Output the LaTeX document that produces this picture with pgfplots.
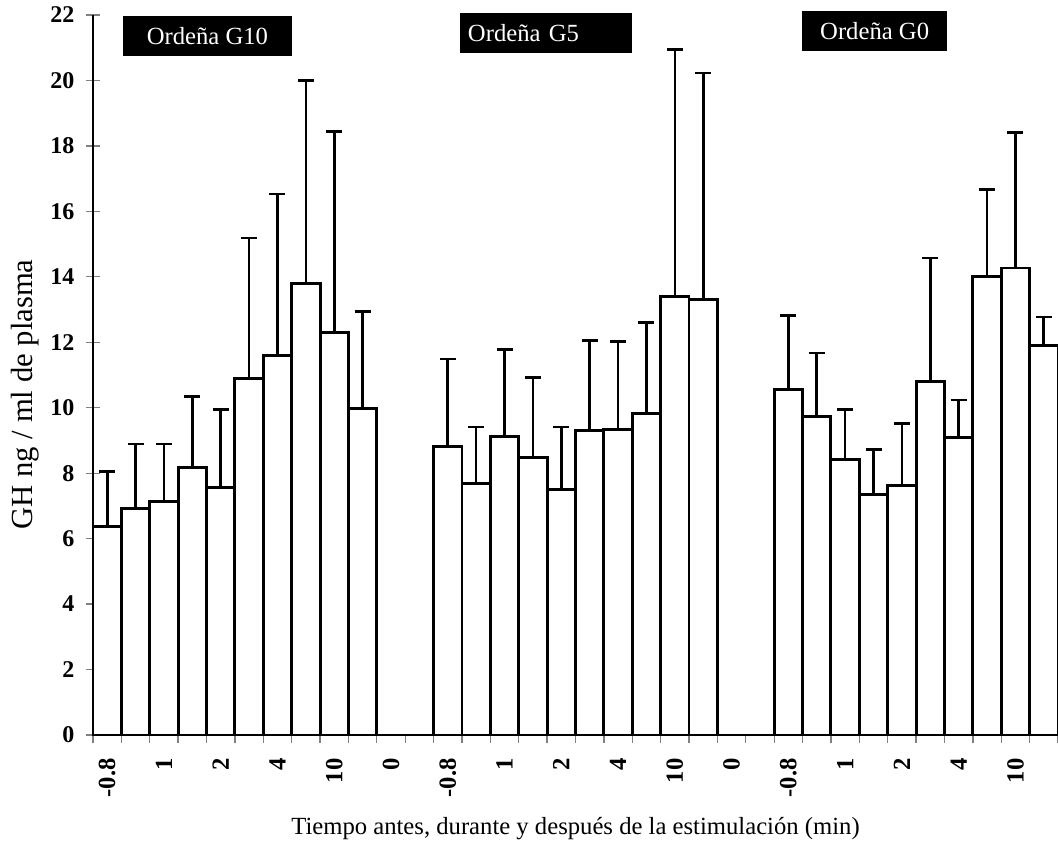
\documentclass[border=0pt]{standalone}
\usepackage{pgfplots}
\pgfplotsset{compat=1.18}
\usepackage{pgfplotstable}
\usepackage{fontspec}
\setmainfont{Liberation Serif}

\pgfplotstableread{
x y e
0.5 6.37 1.68
1.5 6.93 1.96
2.5 7.13 1.76
3.5 8.16 2.19
4.5 7.57 2.37
5.5 10.89 4.30
6.5 11.59 4.94
7.5 13.81 6.19
8.5 12.31 6.14
9.5 9.97 2.97
}\gten
\pgfplotstableread{
x y e
12.5 8.82 2.67
13.5 7.68 1.73
14.5 9.12 2.65
15.5 8.49 2.44
16.5 7.49 1.92
17.5 9.31 2.74
18.5 9.33 2.69
19.5 9.81 2.80
20.5 13.40 7.55
21.5 13.30 6.93
}\gfive
\pgfplotstableread{
x y e
24.5 10.55 2.26
25.5 9.72 1.95
26.5 8.41 1.53
27.5 7.36 1.36
28.5 7.62 1.89
29.5 10.80 3.78
30.5 9.10 1.14
31.5 14.02 2.65
32.5 14.27 4.13
33.5 11.91 0.86
}\gzero

\begin{document}
\begin{tikzpicture}
\begin{axis}[
  at={(0,0)}, anchor=south west,
  scale only axis, width=723.75pt, height=540pt,
  xmin=0, xmax=34, ymin=0, ymax=22,
  axis lines*=left,
  axis line style={line width=1.5pt},
  clip=false,
  ytick={0,2,...,22},
  ytick align=center,
  major tick length=11pt,
  minor tick length=6pt,
  xtick={0.5,2.5,4.5,6.5,8.5,10.5,12.5,14.5,16.5,18.5,20.5,22.5,24.5,26.5,28.5,30.5,32.5},
  xticklabels={-0.8,1,2,4,10,0,-0.8,1,2,4,10,0,-0.8,1,2,4,10},
  major x tick style={draw=none},
  minor xtick={0,1,...,34},
  minor x tick style={line width=1pt},
  xtick align=outside,
  ytick style={line width=1pt},
  /pgf/number format/assume math mode=true,
  yticklabel style={font=\fontsize{18}{20}\selectfont\bfseries, xshift=-5pt},
  xticklabel style={font=\fontsize{18.5}{20}\selectfont\bfseries, rotate=90, anchor=east, xshift=-3pt},
  xlabel={Tiempo antes, durante y después de la estimulación (min)},
  ylabel={GH ng / ml de plasma},
  xlabel style={font=\fontsize{18.5}{20}\selectfont, at={(axis description cs:0.5,-0.1306)}, anchor=center},
  ylabel style={font=\fontsize{23}{24}\selectfont, at={(axis description cs:-0.0705,0.473)}, anchor=center},
  mybar/.style={ybar, bar width=1, bar shift=0pt, fill=white, draw=black, line width=2.2pt,
    error bars/.cd, y dir=plus, y explicit, error mark=|,
    error bar style={line width=2pt, black},
    error mark options={line width=2pt, mark size=6pt, black}},
]
\addplot[mybar] table[x=x, y=y, y error=e] {\gten};
\addplot[mybar] table[x=x, y=y, y error=e] {\gfive};
\addplot[mybar] table[x=x, y=y, y error=e] {\gzero};

\node[fill=black, text=white, minimum width=126.75pt, minimum height=30pt, inner sep=0pt,
      font=\fontsize{18.5}{20}\selectfont] at (axis cs:4.03,21.36) {Ordeña G10};
\node[fill=black, text=white, minimum height=30pt, inner xsep=6pt, inner ysep=0pt,
      text width=117pt, align=left,
      font=\fontsize{18.5}{20}\selectfont] at (axis cs:15.96,21.45) {Ordeña G5};
\node[fill=black, text=white, minimum width=108.75pt, minimum height=30pt, inner sep=0pt,
      font=\fontsize{18.5}{20}\selectfont] at (axis cs:27.54,21.51) {Ordeña G0};
\end{axis}
\pgfresetboundingbox
\useasboundingbox (-69.75pt,-86.25pt) rectangle (723.75pt,551.25pt);
\end{tikzpicture}
\end{document}
